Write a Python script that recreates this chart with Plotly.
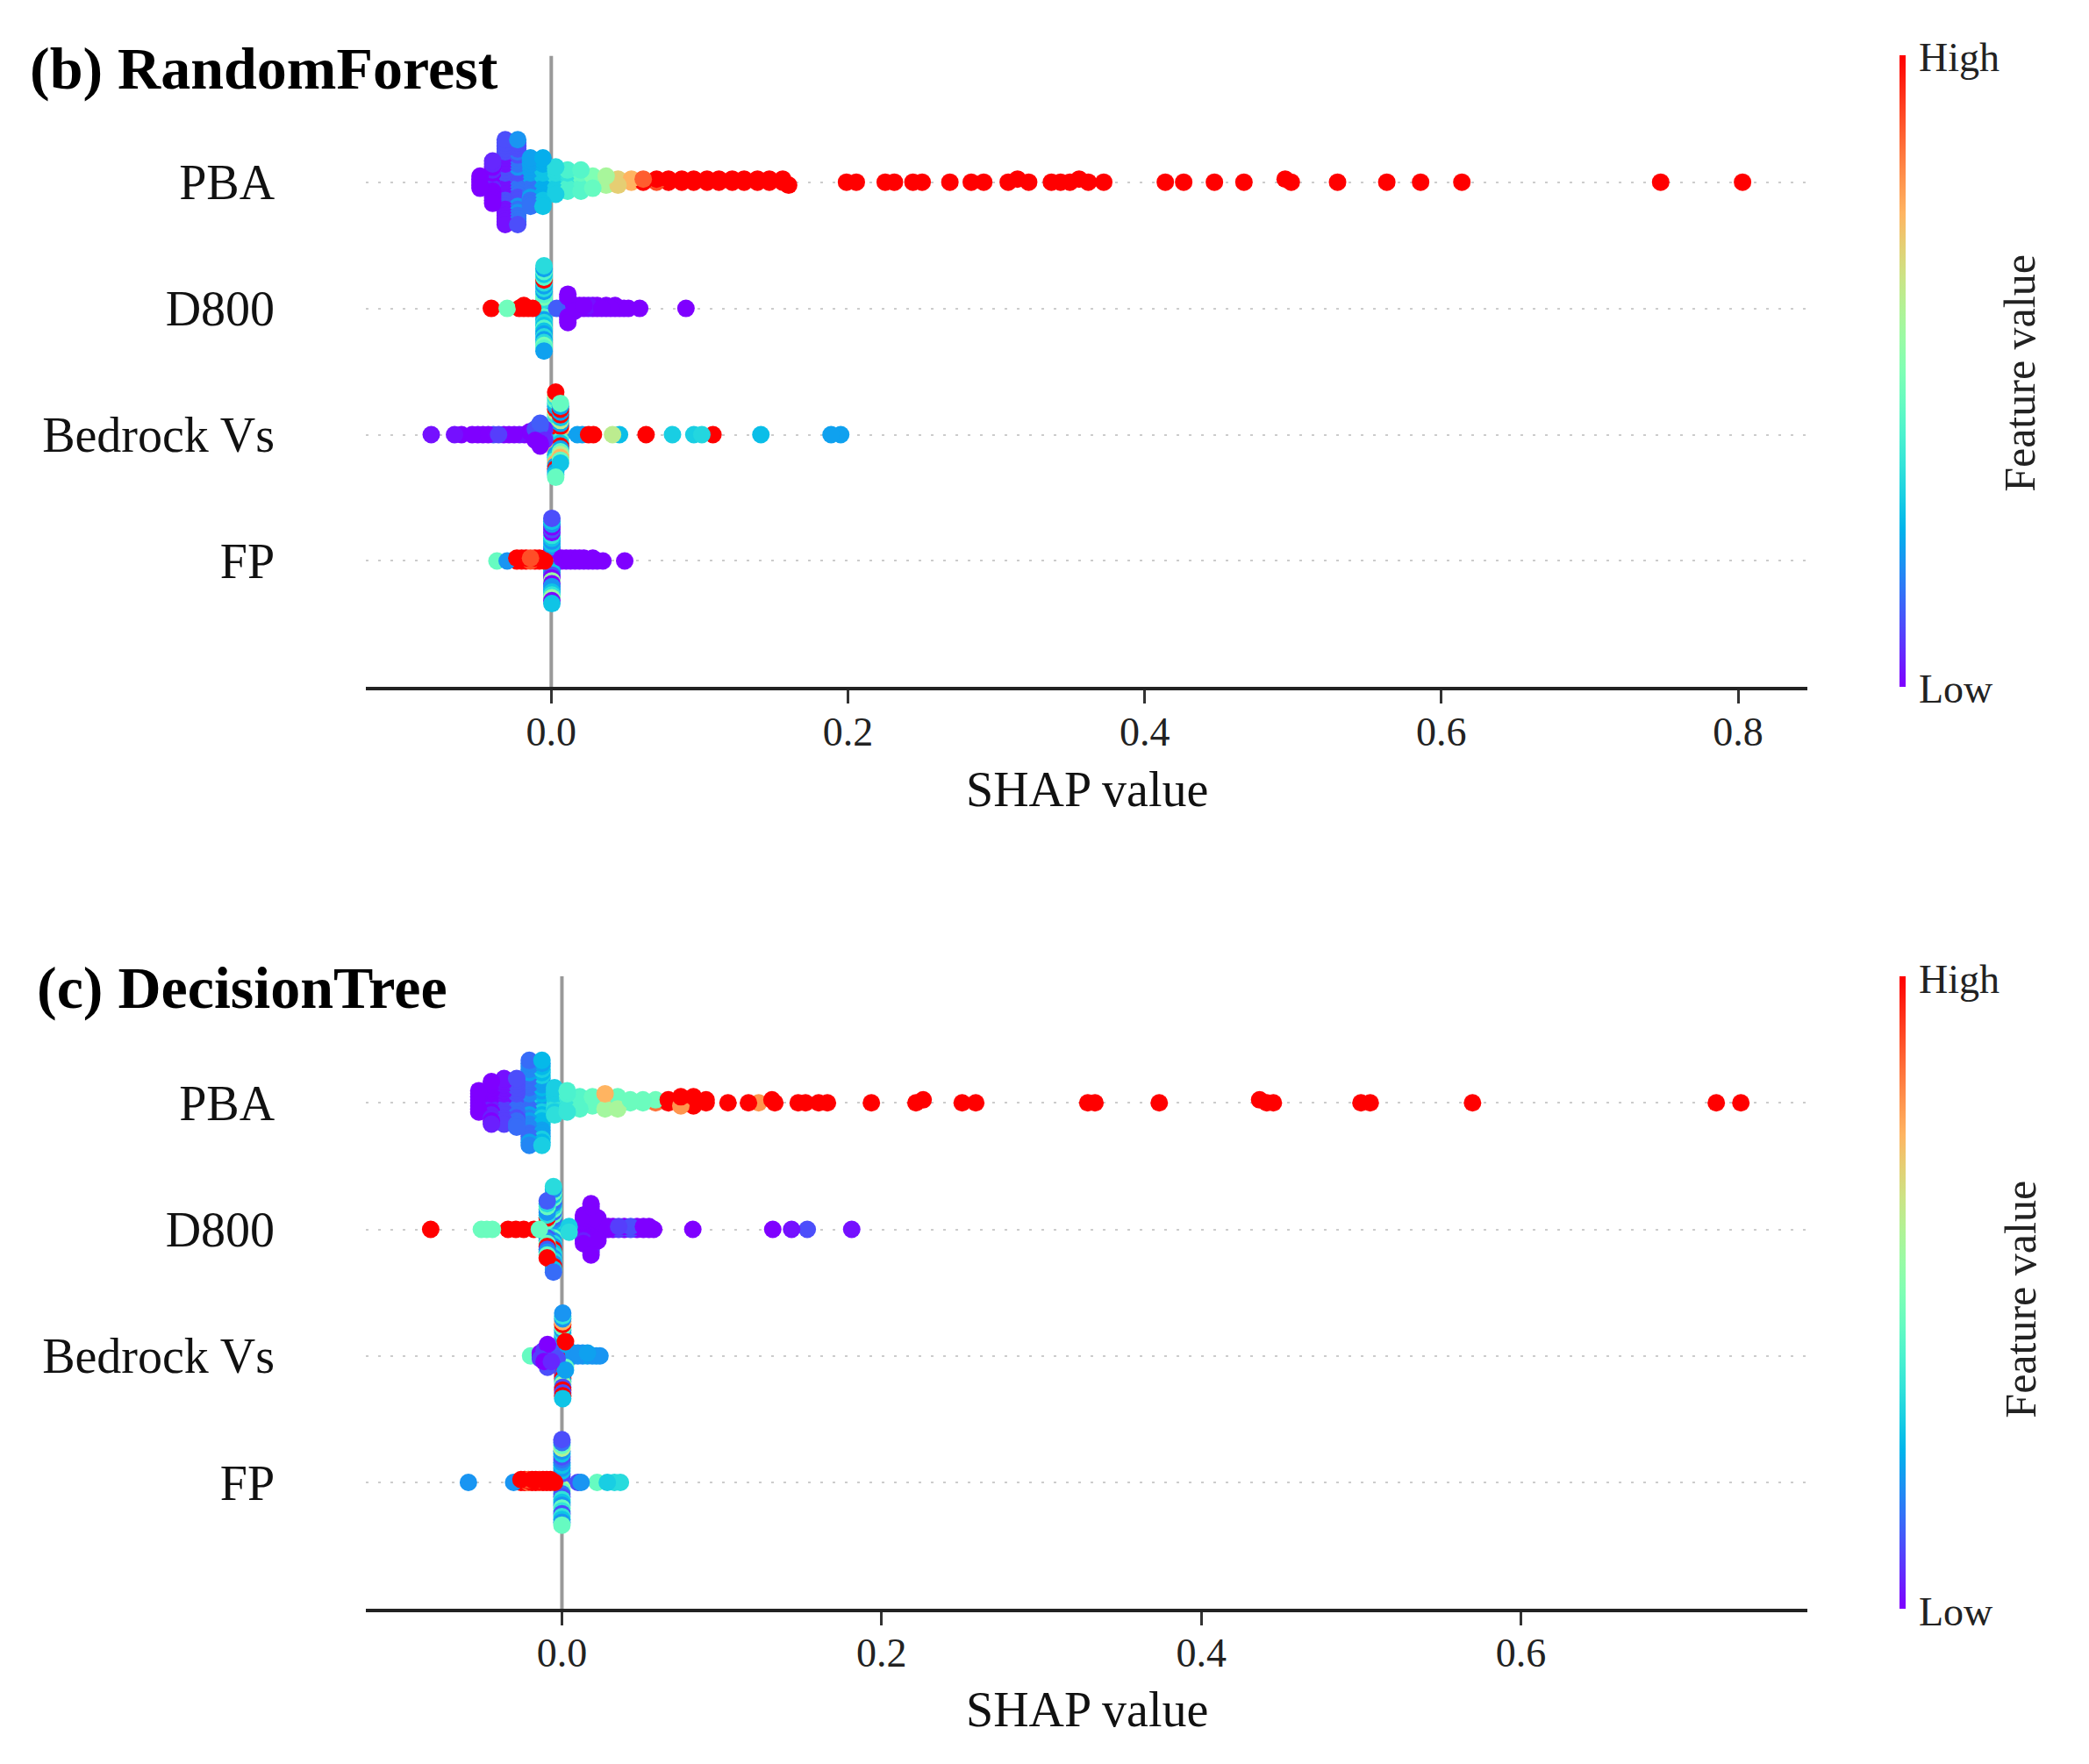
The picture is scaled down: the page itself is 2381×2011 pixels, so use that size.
import numpy as np
import plotly.graph_objects as go

# rows, bottom to top (matches shap ordering: most important on top)
FEATURES = ["FP", "Bedrock Vs", "D800", "PBA"]
PANEL_TITLES = ["(b) RandomForest", "(c) DecisionTree"]
RF_XTICKS = [0.0, 0.2, 0.4, 0.6, 0.8]
DT_XTICKS = [0.0, 0.2, 0.4, 0.6]

# Each feature: shap value of a group of samples, how many samples sit there,
# and their (normalised) feature value 0 = Low ... 1 = High.

# ---------------- RandomForest ----------------
RF_PBA_SHAP = [-0.048, -0.0395, -0.0395, -0.031, -0.031, -0.0226, -0.0226, -0.0226,
               -0.014, -0.014, -0.0056, -0.0056, 0.003, 0.003, 0.011, 0.011,
               0.020, 0.020, 0.028, 0.028, 0.037, 0.037, 0.045, 0.045, 0.054,
               0.062, 0.062, 0.071, 0.071, 0.079, 0.088, 0.096, 0.105, 0.113,
               0.122, 0.130, 0.139, 0.147, 0.156, 0.160,
               0.199, 0.2056, 0.2251, 0.2313, 0.2438, 0.250, 0.2687, 0.2831,
               0.2915, 0.308, 0.3143, 0.3218, 0.3371, 0.3433, 0.3496, 0.3558,
               0.362, 0.3724, 0.4139, 0.4263, 0.447, 0.4669, 0.4947, 0.4988,
               0.530, 0.5632, 0.586, 0.6138, 0.7478, 0.803]
RF_PBA_N = [5, 10, 5, 16, 13, 12, 12, 5, 7, 10, 9, 8, 5, 5, 4, 4, 5, 3, 3, 2, 3, 1,
            2, 1, 2, 1, 1, 1, 1, 2, 2, 2, 2, 2, 2, 2, 2, 2, 2, 1] + [1] * 30
RF_PBA_FVAL = [0.0, 0.0, 0.05, 0.02, 0.1, 0.1, 0.15, 0.2, 0.15, 0.22, 0.24, 0.28,
               0.3, 0.33, 0.35, 0.4, 0.42, 0.45, 0.45, 0.5, 0.58, 0.45, 0.7, 0.45,
               0.75, 0.88, 1.0, 0.9, 1.0, 1.0, 1.0, 1.0, 1.0, 1.0, 1.0, 1.0, 1.0,
               1.0, 1.0, 1.0] + [1.0] * 30

RF_D800_SHAP = [-0.0404, -0.0297, -0.0215, -0.0185, -0.0155, -0.0125,
                -0.0049, -0.0049, -0.0049, -0.0049, -0.0049, -0.0049,
                0.0037, 0.0112, 0.0112, 0.0155, 0.019, 0.022, 0.025, 0.028,
                0.031, 0.034, 0.037, 0.040, 0.043, 0.046, 0.049, 0.052,
                0.0596, 0.0908]
RF_D800_N = [1, 1, 1, 2, 1, 1, 8, 8, 7, 5, 1, 2, 1, 10, 1, 3, 2, 2, 2, 2, 2, 1, 2,
             1, 2, 1, 1, 1, 1, 1]
RF_D800_FVAL = [1.0, 0.47, 1.0, 1.0, 1.0, 1.0, 0.33, 0.22, 0.42, 0.28, 1.0, 0.48,
                0.12, 0.0, 0.06, 0.0, 0.0, 0.0, 0.02, 0.0, 0.0, 0.0, 0.0, 0.0,
                0.0, 0.0, 0.0, 0.0, 0.0, 0.0]

RF_BVS_SHAP = [-0.0809, -0.0652, -0.0605, -0.0533, -0.0495, -0.046, -0.0425,
               -0.039, -0.0355, -0.032, -0.0285, -0.025, -0.0215, -0.018,
               -0.0146, -0.0108, -0.0108, -0.0075, -0.0075, -0.0045, -0.0045,
               0.003, 0.003, 0.003, 0.003, 0.003, 0.003, 0.003,
               0.0062, 0.0062, 0.0062, 0.0062, 0.0062, 0.0062,
               0.0176, 0.0209, 0.0252, 0.0284, 0.0413, 0.046, 0.0639, 0.0817,
               0.0961, 0.1015, 0.109, 0.1413, 0.1886, 0.1951]
RF_BVS_N = [1, 1, 1, 1, 1, 1, 1, 1, 1, 1, 1, 1, 1, 1, 2, 3, 2, 5, 4, 3, 2,
            6, 5, 3, 3, 5, 4, 5, 5, 5, 4, 3, 3, 2,
            1, 1, 1, 1, 1, 1, 1, 1, 1, 1, 1, 1, 1, 1]
RF_BVS_FVAL = [0.02, 0.02, 0.0, 0.0, 0.0, 0.0, 0.0, 0.1, 0.08, 0.0, 0.0, 0.0,
               0.02, 0.0, 0.0, 0.0, 0.1, 0.0, 0.12, 0.05, 0.15,
               0.22, 1.0, 0.75, 0.62, 0.45, 0.35, 0.28,
               1.0, 0.22, 0.45, 0.62, 0.28, 0.75,
               0.22, 0.22, 1.0, 1.0, 0.62, 0.27, 1.0, 0.3, 0.3, 0.32, 1.0,
               0.27, 0.22, 0.22]

RF_FP_SHAP = [-0.0366, -0.0297, -0.0232, -0.020, -0.017, -0.014, -0.011, -0.008,
              -0.0045, 0.0004, 0.0004, 0.0004, 0.0004, 0.0004, 0.0004,
              0.007, 0.010, 0.013, 0.016, 0.019, 0.022, 0.025, 0.028, 0.031,
              0.0348, 0.0495]
RF_FP_N = [1, 1, 2, 2, 2, 2, 2, 2, 1, 7, 7, 8, 2, 4, 3, 2, 2, 2, 2, 2, 2, 1, 2,
           1, 1, 1]
RF_FP_FVAL = [0.45, 0.2, 1.0, 1.0, 1.0, 0.9, 1.0, 1.0, 1.0, 0.28, 0.2, 0.0, 0.55,
              0.1, 0.35, 0.0, 0.0, 0.0, 0.0, 0.0, 0.0, 0.0, 0.0, 0.0, 0.0, 0.0]

# ---------------- DecisionTree ----------------
DT_PBA_SHAP = [-0.052, -0.0441, -0.0441, -0.0362, -0.0362, -0.0283, -0.0283,
               -0.0204, -0.0204, -0.0204, -0.0125, -0.0125, -0.0125,
               -0.0046, -0.0046, 0.0033, 0.0033, 0.0112, 0.0191,
               0.027, 0.027, 0.027, 0.0349, 0.0349, 0.0428, 0.0507,
               0.0586, 0.0586, 0.0665, 0.0744, 0.0744, 0.0823, 0.0823, 0.0902,
               0.1039, 0.1167, 0.1231, 0.1314, 0.1332, 0.1478, 0.1524, 0.1606,
               0.1661, 0.1936, 0.2215, 0.226, 0.2504, 0.2589, 0.329, 0.3335,
               0.3737, 0.4365, 0.441, 0.4451, 0.4999, 0.5057, 0.5697, 0.7222,
               0.7376]
DT_PBA_N = [8, 10, 5, 9, 7, 10, 7, 12, 12, 5, 11, 11, 7, 6, 4, 5, 3, 5, 4, 3, 2, 1,
            3, 2, 2, 2, 1, 1, 2, 3, 1, 3, 1, 2] + [1] * 25
DT_PBA_FVAL = [0.0, 0.0, 0.04, 0.02, 0.08, 0.1, 0.14, 0.14, 0.18, 0.22, 0.22,
               0.26, 0.3, 0.3, 0.34, 0.36, 0.4, 0.42, 0.45, 0.57, 0.75, 0.45,
               0.58, 0.46, 0.46, 0.46, 0.47, 0.85, 1.0, 1.0, 0.8, 1.0, 0.88,
               1.0, 1.0, 1.0, 0.8] + [1.0] * 22

DT_D800_SHAP = [-0.0821, -0.0504, -0.047, -0.0435, -0.0337, -0.0288, -0.0239,
                -0.0175, -0.0141,
                -0.0092, -0.0092, -0.0092, -0.0092, -0.0092,
                -0.0053, -0.0053, -0.0053, -0.0053, -0.0053, -0.0053, -0.0053,
                0.0045, 0.0045, 0.0135, 0.0135, 0.0182, 0.0182, 0.0225,
                0.026, 0.029, 0.032, 0.0355, 0.039, 0.043, 0.047, 0.051,
                0.0545, 0.0574, 0.0819, 0.1319, 0.1437, 0.1535, 0.1813]
DT_D800_N = [1, 1, 1, 1, 1, 1, 1, 1, 1, 6, 5, 3, 4, 3, 8, 6, 6, 4, 4, 2, 1, 2, 1,
             9, 2, 17, 2, 9, 2, 2, 2, 2, 2, 2, 2, 2, 2, 1, 1, 1, 1, 1, 1]
DT_D800_FVAL = [1.0, 0.46, 0.46, 0.46, 1.0, 1.0, 1.0, 1.0, 0.45,
                0.2, 0.45, 1.0, 0.33, 0.12,
                0.2, 0.33, 0.45, 0.28, 0.14, 1.0, 0.24,
                0.3, 0.33, 0.0, 0.04, 0.0, 0.06, 0.0,
                0.0, 0.0, 0.0, 0.08, 0.0, 0.1, 0.0, 0.0, 0.0, 0.0, 0.0, 0.0,
                0.02, 0.1, 0.02]

DT_BVS_SHAP = [-0.0196, -0.0135, -0.0135, -0.0112, -0.0112, -0.009, -0.009,
               -0.0066, -0.0066, -0.003,
               0.0005, 0.0005, 0.0005, 0.0005, 0.0005, 0.0005, 0.0005, 0.0005,
               0.0022, 0.0022, 0.0022, 0.0022,
               0.0055, 0.0072, 0.010, 0.013, 0.016, 0.019, 0.0215, 0.0238]
DT_BVS_N = [1, 2, 1, 3, 2, 5, 4, 3, 2, 3, 8, 3, 4, 6, 2, 4, 1, 3, 4, 4, 2, 1,
            1, 2, 2, 2, 2, 1, 1, 1]
DT_BVS_FVAL = [0.45, 0.0, 0.08, 0.08, 0.0, 0.0, 0.1, 0.12, 0.05, 0.1,
               1.0, 0.45, 0.1, 0.2, 0.55, 0.35, 0.75, 0.28,
               1.0, 0.22, 0.45, 0.1,
               1.0, 0.2, 0.2, 0.2, 0.22, 0.2, 0.22, 0.2]

DT_FP_SHAP = [-0.0585, -0.0302, -0.0256, -0.0233, -0.021, -0.0187, -0.0164,
              -0.0141, -0.0118, -0.0095, -0.0072, -0.0046,
              0.0, 0.0, 0.0, 0.0, 0.0, 0.0, 0.0,
              0.010, 0.012, 0.022, 0.0284, 0.0329, 0.0366]
DT_FP_N = [1, 1, 2, 2, 2, 2, 2, 2, 2, 2, 2, 1, 4, 6, 2, 6, 6, 4, 3, 1, 1, 1, 1,
           1, 1]
DT_FP_FVAL = [0.2, 0.2, 1.0, 1.0, 0.88, 1.0, 1.0, 0.92, 1.0, 1.0, 1.0, 1.0,
              0.45, 0.2, 0.6, 0.28, 0.1, 0.35, 0.15,
              0.1, 0.2, 0.45, 0.3, 0.33, 0.33]

PANELS = [
    [(RF_FP_SHAP, RF_FP_N, RF_FP_FVAL), (RF_BVS_SHAP, RF_BVS_N, RF_BVS_FVAL),
     (RF_D800_SHAP, RF_D800_N, RF_D800_FVAL), (RF_PBA_SHAP, RF_PBA_N, RF_PBA_FVAL)],
    [(DT_FP_SHAP, DT_FP_N, DT_FP_FVAL), (DT_BVS_SHAP, DT_BVS_N, DT_BVS_FVAL),
     (DT_D800_SHAP, DT_D800_N, DT_D800_FVAL), (DT_PBA_SHAP, DT_PBA_N, DT_PBA_FVAL)],
]

FONT = "Liberation Serif, Times New Roman, serif"


def rainbow_scale(n=21):
    """matplotlib 'rainbow' colormap as a plotly colorscale."""
    out = []
    for t in np.linspace(0, 1, n):
        r = min(1.0, abs(2 * t - 0.5))
        g = np.sin(np.pi * t)
        b = np.cos(np.pi * t / 2)
        out.append([float(t), "rgb(%d,%d,%d)" % (r * 255, g * 255, max(b, 0) * 255)])
    return out


def beeswarm(shap_vals, counts, fvals, row, nbins=100, row_height=0.4):
    """shap-style vertical jitter: stack samples that fall into the same bin."""
    x = np.repeat(np.asarray(shap_vals, float), counts)
    c = np.repeat(np.asarray(fvals, float), counts)
    quant = np.round(nbins * (x - x.min()) / (x.max() - x.min() + 1e-8))
    mix = (np.arange(len(x)) * 0.6180339887) % 1.0  # interleave colours in a bin
    order = np.lexsort((mix, quant))
    ys = np.zeros(len(x))
    layer, last = 0, None
    for i in order:
        if quant[i] != last:
            layer = 0
        ys[i] = np.ceil(layer / 2) * ((layer % 2) * 2 - 1)
        layer += 1
        last = quant[i]
    ys *= 0.9 * (row_height / np.max(ys + 1))
    draw = np.argsort(mix)
    return x[draw], row + ys[draw], c[draw]


fig = go.Figure()
for p, feats in enumerate(PANELS):
    xs, ys, cs = [], [], []
    for row, (s, n, f) in enumerate(feats):
        a, b, c = beeswarm(s, n, f, row)
        xs.append(a)
        ys.append(b)
        cs.append(c)
    sfx = "" if p == 0 else "2"
    fig.add_trace(go.Scatter(
        x=np.concatenate(xs), y=np.concatenate(ys), mode="markers",
        marker=dict(size=20, color=np.concatenate(cs), coloraxis="coloraxis" + sfx,
                    line=dict(width=0), opacity=1),
        xaxis="x" + sfx, yaxis="y" + sfx, hoverinfo="skip",
    ))

ydom = [[0.6144, 0.9723], [0.0919, 0.4505]]
xrng = [[-0.1248, 0.8468], [-0.1225, 0.7793]]
xticks = [RF_XTICKS, DT_XTICKS]

layout = dict(
    width=2381, height=2011, margin=dict(l=0, r=0, t=0, b=0),
    paper_bgcolor="white", plot_bgcolor="white", showlegend=False,
    font=dict(family=FONT, size=46, color="#000"),
)
annotations = []
shapes = []
for p in range(2):
    sfx = "" if p == 0 else "2"
    layout["xaxis" + sfx] = dict(
        domain=[0.1719, 0.8619], range=xrng[p], anchor="y" + sfx,
        tickvals=xticks[p], tickformat=".1f", ticks="outside", ticklen=15,
        tickwidth=3, tickcolor="#333", showline=True, linecolor="#222",
        linewidth=4, showgrid=False, zeroline=False, ticklabelstandoff=-8,
        tickfont=dict(family=FONT, size=46, color="#222"),
    )
    layout["yaxis" + sfx] = dict(
        domain=ydom[p], range=[-1, 4], anchor="x" + sfx,
        tickvals=[0, 1, 2, 3], ticktext=FEATURES, ticks="outside", ticklen=92,
        tickcolor="rgba(0,0,0,0)", showgrid=True, gridcolor="#cccccc",
        gridwidth=2, griddash="3px,11px", zeroline=False, showline=False,
        tickfont=dict(family=FONT, size=56, color="#111"),
    )
    layout["coloraxis" + sfx] = dict(
        colorscale=rainbow_scale(), cmin=0, cmax=1,
        colorbar=dict(x=0.906, xanchor="left", xpad=0, y=ydom[p][0],
                      yanchor="bottom", len=ydom[p][1] - ydom[p][0],
                      lenmode="fraction", ypad=0, thickness=7, outlinewidth=0,
                      showticklabels=False, ticks=""),
    )
    shapes.append(dict(type="line", xref="x" + sfx, yref="y" + sfx + " domain",
                       x0=0, x1=0, y0=0, y1=1, layer="below",
                       line=dict(color="#999999", width=4)))
    annotations += [
        dict(text="<b>%s</b>" % PANEL_TITLES[p], xref="paper", yref="paper",
             x=[0.0102, 0.0134][p], y=[0.9652, 0.4442][p], xanchor="left",
             yanchor="middle", showarrow=False, font=dict(family=FONT, size=68)),
        dict(text="SHAP value", xref="paper", yref="paper", x=0.5169,
             y=[0.5563, 0.0349][p], xanchor="center", yanchor="middle",
             showarrow=False, font=dict(family=FONT, size=56, color="#111")),
        dict(text="High", xref="paper", yref="paper", x=0.9145,
             y=[0.9712, 0.4488][p], xanchor="left", yanchor="middle",
             showarrow=False, font=dict(family=FONT, size=46, color="#222")),
        dict(text="Low", xref="paper", yref="paper", x=0.9145,
             y=[0.6135, 0.0903][p], xanchor="left", yanchor="middle",
             showarrow=False, font=dict(family=FONT, size=46, color="#222")),
        dict(text="Feature value", xref="paper", yref="paper", x=0.9637,
             y=[0.7925, 0.2675][p], xanchor="center", yanchor="middle",
             textangle=-90, showarrow=False,
             font=dict(family=FONT, size=50, color="#222")),
    ]
layout["annotations"] = annotations
layout["shapes"] = shapes
fig.update_layout(**layout)

fig.write_html("out.html")
